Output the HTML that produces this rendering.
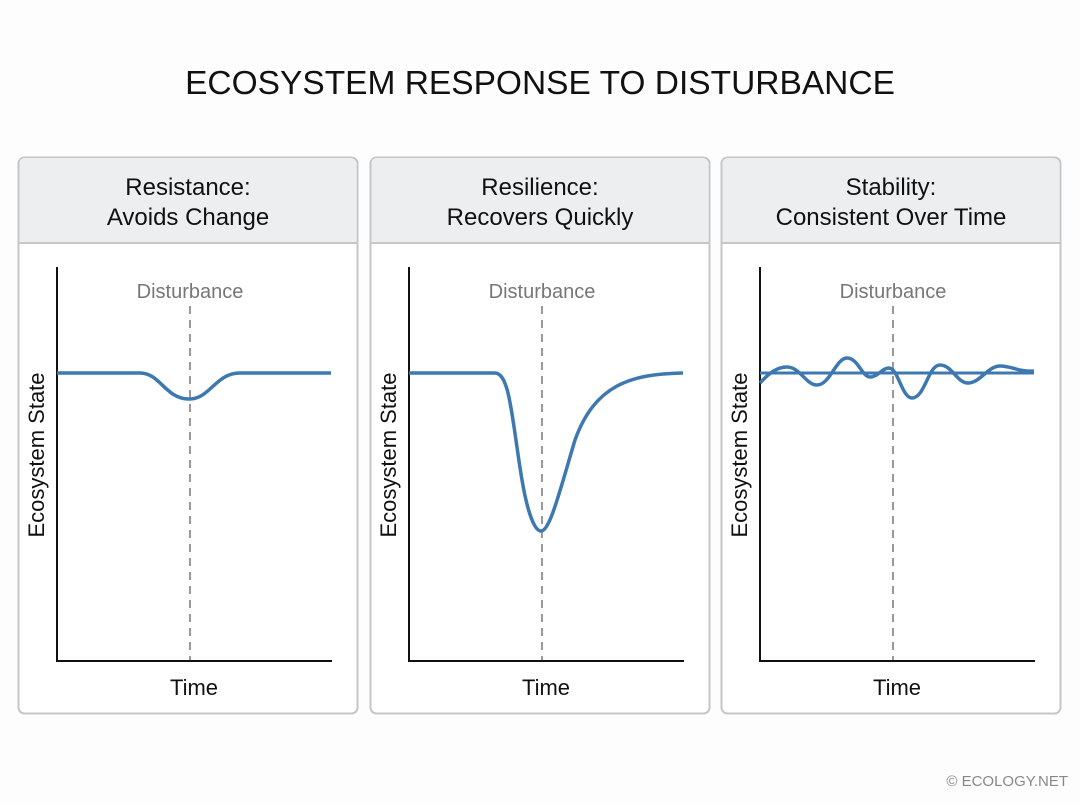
<!DOCTYPE html>
<html><head><style>
body{margin:0;background:#fff;}
svg text{font-family:"Liberation Sans",sans-serif;}
</style></head><body>
<svg width="1080" height="806" viewBox="0 0 1080 806" xmlns="http://www.w3.org/2000/svg">
<rect width="1080" height="806" fill="#fdfdfd"/>
<text x="540" y="94" text-anchor="middle" font-size="33.5" fill="#111">ECOSYSTEM RESPONSE TO DISTURBANCE</text>
<!-- Panel 1 -->
<g>
<rect x="18.5" y="157.5" width="339" height="556" rx="6" fill="#fff" stroke="#c4c6c8" stroke-width="2"/>
<path d="M19.5 243 V163 a5 5 0 0 1 5 -5 H351 a5 5 0 0 1 5 5 V243 Z" fill="#eceef0"/>
<line x1="19" y1="243" x2="357" y2="243" stroke="#c4c6c8" stroke-width="2"/>
<text x="188" y="195" text-anchor="middle" font-size="24" fill="#111">Resistance:</text>
<text x="188" y="225" text-anchor="middle" font-size="24" fill="#111">Avoids Change</text>
<line x1="57" y1="267" x2="57" y2="662" stroke="#111" stroke-width="2"/>
<line x1="56" y1="661" x2="332" y2="661" stroke="#111" stroke-width="2"/>
<line x1="190" y1="306" x2="190" y2="660" stroke="#999" stroke-width="2" stroke-dasharray="8,6"/>
<text x="190" y="298" text-anchor="middle" font-size="20" fill="#777">Disturbance</text>
<text x="44" y="455" text-anchor="middle" font-size="22" fill="#111" transform="rotate(-90 44 455)">Ecosystem State</text>
<text x="194" y="695" text-anchor="middle" font-size="22" fill="#111">Time</text>
<path d="M57 373 H140 C160 373 165 398 188 399 C210 400 215 373 240 373 H331" fill="none" stroke="#3d78b0" stroke-width="3.5"/>
</g>
<!-- Panel 2 -->
<g>
<rect x="370.5" y="157.5" width="339" height="556" rx="6" fill="#fff" stroke="#c4c6c8" stroke-width="2"/>
<path d="M371.5 243 V163 a5 5 0 0 1 5 -5 H703 a5 5 0 0 1 5 5 V243 Z" fill="#eceef0"/>
<line x1="371" y1="243" x2="709" y2="243" stroke="#c4c6c8" stroke-width="2"/>
<text x="540" y="195" text-anchor="middle" font-size="24" fill="#111">Resilience:</text>
<text x="540" y="225" text-anchor="middle" font-size="24" fill="#111">Recovers Quickly</text>
<line x1="409" y1="267" x2="409" y2="662" stroke="#111" stroke-width="2"/>
<line x1="408" y1="661" x2="684" y2="661" stroke="#111" stroke-width="2"/>
<line x1="542" y1="306" x2="542" y2="660" stroke="#999" stroke-width="2" stroke-dasharray="8,6"/>
<text x="542" y="298" text-anchor="middle" font-size="20" fill="#777">Disturbance</text>
<text x="396" y="455" text-anchor="middle" font-size="22" fill="#111" transform="rotate(-90 396 455)">Ecosystem State</text>
<text x="546" y="695" text-anchor="middle" font-size="22" fill="#111">Time</text>
<path d="M409 373 H495 C510 373 512 420 522 480 C528 515 535 531 541 531 C550 531 560 490 575 440 C595 385 630 374 683 373" fill="none" stroke="#3d78b0" stroke-width="3.5"/>
</g>
<!-- Panel 3 -->
<g>
<rect x="721.5" y="157.5" width="339" height="556" rx="6" fill="#fff" stroke="#c4c6c8" stroke-width="2"/>
<path d="M722.5 243 V163 a5 5 0 0 1 5 -5 H1054 a5 5 0 0 1 5 5 V243 Z" fill="#eceef0"/>
<line x1="722" y1="243" x2="1060" y2="243" stroke="#c4c6c8" stroke-width="2"/>
<text x="891" y="195" text-anchor="middle" font-size="24" fill="#111">Stability:</text>
<text x="891" y="225" text-anchor="middle" font-size="24" fill="#111">Consistent Over Time</text>
<line x1="760" y1="267" x2="760" y2="662" stroke="#111" stroke-width="2"/>
<line x1="759" y1="661" x2="1035" y2="661" stroke="#111" stroke-width="2"/>
<line x1="893" y1="306" x2="893" y2="660" stroke="#999" stroke-width="2" stroke-dasharray="8,6"/>
<text x="893" y="298" text-anchor="middle" font-size="20" fill="#777">Disturbance</text>
<text x="747" y="455" text-anchor="middle" font-size="22" fill="#111" transform="rotate(-90 747 455)">Ecosystem State</text>
<text x="897" y="695" text-anchor="middle" font-size="22" fill="#111">Time</text>
<line x1="760" y1="373" x2="1034" y2="373" stroke="#3d78b0" stroke-width="3"/>
<path d="M760 383 C770 372 778 367 787 367 C800 367 806 385 817 385 C830 385 836 358 847 358 C858 358 862 377 870 377 C878 377 882 368 889 368 C898 368 902 398 912 398 C925 398 928 365 940 365 C952 365 957 383 968 383 C980 383 988 366 1000 366 C1012 366 1018 372 1034 371" fill="none" stroke="#3d78b0" stroke-width="3.5"/>
</g>
<text x="1068" y="786" text-anchor="end" font-size="15" fill="#888">© ECOLOGY.NET</text>
</svg>
</body></html>
